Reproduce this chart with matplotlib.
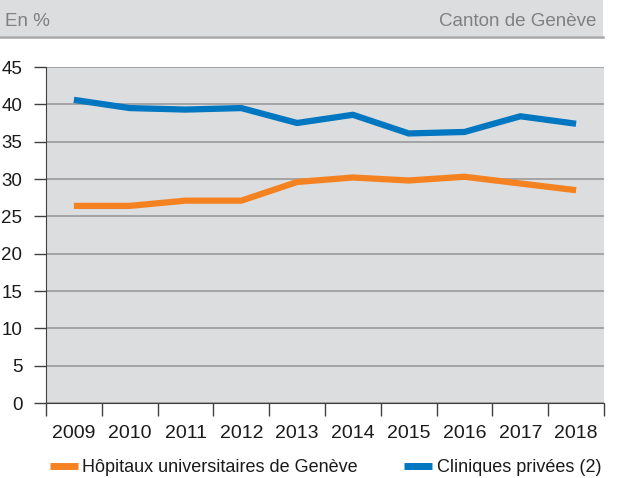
import numpy as np
import matplotlib.pyplot as plt
from matplotlib.patches import Rectangle
from matplotlib.lines import Line2D

plt.rcParams['font.family'] = ['Liberation Sans', 'DejaVu Sans']

years = ['2009', '2010', '2011', '2012', '2013', '2014', '2015', '2016', '2017', '2018']
hug = [26.4, 26.4, 27.1, 27.1, 29.6, 30.2, 29.8, 30.3, 29.4, 28.5]
cliniques = [40.6, 39.5, 39.3, 39.5, 37.5, 38.6, 36.1, 36.3, 38.4, 37.4]
labels = ['Hôpitaux universitaires de Genève', 'Cliniques privées (2)']
colors = ['#F58220', '#0077C0']

W, H = 617, 478
fs = 13
fig = plt.figure(figsize=(W / 100, H / 100), dpi=100)

# bandeau d'en-tête
fig.patches.append(Rectangle((0, 1 - 36 / H), 603 / W, 36 / H, transform=fig.transFigure,
                             facecolor='#DCDDDF', edgecolor='none'))
fig.add_artist(Line2D([0, 603 / W], [1 - 37 / H, 1 - 37 / H], transform=fig.transFigure,
                      color='#A6A6A6', lw=1.8))
fig.text(5 / W, 1 - 21 / H, 'En %', color='#808080', fontsize=13.5, va='center', ha='left')
fig.text(596 / W, 1 - 21 / H, 'Canton de Genève', color='#808080', fontsize=13.5,
         va='center', ha='right')

ax = fig.add_axes([46 / W, 1 - 403 / H, (604 - 46) / W, (403 - 67) / H])
ax.set_facecolor('#DCDDDF')
x = np.arange(len(years))
ax.plot(x, hug, color=colors[0], lw=4.5, solid_capstyle='butt', zorder=3)
ax.plot(x, cliniques, color=colors[1], lw=4.5, solid_capstyle='butt', zorder=3)

ax.set_xlim(-0.5, len(years) - 0.5)
ax.set_ylim(0, 45)
ax.set_yticks(range(0, 50, 5))
ax.yaxis.grid(True, color='#9A9A9A', lw=1.2)
ax.set_axisbelow(True)
ax.set_xticks(np.arange(-0.5, len(years), 1))
ax.set_xticklabels([])
ax.set_xticks(x, minor=True)
ax.set_xticklabels(years, minor=True)
ax.tick_params(axis='x', which='major', length=9, color='#404040', width=1)
ax.tick_params(axis='x', which='minor', length=0, labelsize=14, pad=16, labelcolor='#1A1A1A')
ax.tick_params(axis='y', length=9, color='#404040', width=1, labelsize=13.5, pad=8,
               labelcolor='#1A1A1A')
for s in ['top', 'right']:
    ax.spines[s].set_visible(False)
ax.spines['left'].set_color('#404040')
ax.spines['bottom'].set_color('#404040')

handles = [Line2D([], [], color=c, lw=5, solid_capstyle='butt') for c in colors]
fig.legend(handles, labels, loc='center left', bbox_to_anchor=(33.5 / W, 1 - 468 / H), ncol=2,
           frameon=False, fontsize=fs, handlelength=1.55, handletextpad=0.25,
           columnspacing=2.58, labelcolor='#1A1A1A')

fig.savefig('out.png', dpi=100)
